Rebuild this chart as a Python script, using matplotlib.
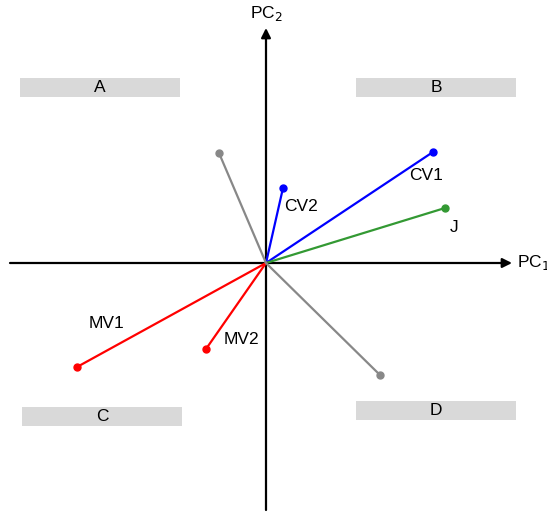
import matplotlib.pyplot as plt
from matplotlib.patches import Rectangle

plt.rcParams['font.family'] = ['Liberation Sans', 'DejaVu Sans']

# loading vectors in the PC1/PC2 plane
names = ['CV1', 'CV2', 'J', 'MV1', 'MV2', '', '']
pc1 = [1.67, 0.17, 1.79, -1.89, -0.60, -0.47, 1.14]
pc2 = [1.11, 0.75, 0.55, -1.04, -0.86, 1.10, -1.12]
colors = ['#0000ff', '#0000ff', '#339933', '#ff0000', '#ff0000', '#888888', '#888888']
label_offsets = [(-0.07, -0.24), (0.18, -0.19), (0.09, -0.20), (0.29, 0.44), (0.35, 0.10), (0, 0), (0, 0)]

# quadrant tags
quads = ['A', 'B', 'C', 'D']
quad_x = [-2.46, 0.90, -2.44, 0.90]
quad_y = [1.66, 1.66, -1.63, -1.57]

fig = plt.figure(figsize=(5.47, 5.13), dpi=100)
ax = fig.add_axes([0, 0, 1, 1])
ax.set_xlim(-2.66, 2.81)
ax.set_ylim(-2.50, 2.63)
ax.axis('off')

# axes with arrow heads
ax.annotate('', xy=(2.46, 0), xytext=(-2.56, 0),
            arrowprops=dict(arrowstyle='-|>', color='black', lw=1.6, mutation_scale=14, shrinkA=0, shrinkB=0))
ax.annotate('', xy=(0, 2.35), xytext=(0, -2.47),
            arrowprops=dict(arrowstyle='-|>', color='black', lw=1.6, mutation_scale=14, shrinkA=0, shrinkB=0))
ax.text(2.51, 0, 'PC$_1$', fontsize=12.5, va='center', ha='left')
ax.text(0, 2.40, 'PC$_2$', fontsize=12.5, va='bottom', ha='center')

for q, x, y in zip(quads, quad_x, quad_y):
    ax.add_patch(Rectangle((x, y), 1.6, 0.19, facecolor='#d9d9d9', edgecolor='none'))
    ax.text(x + 0.8, y + 0.095, q, fontsize=12.5, ha='center', va='center')

for n, x, y, c, off in zip(names, pc1, pc2, colors, label_offsets):
    ax.plot([0, x], [0, y], color=c, lw=1.6, zorder=3)
    ax.plot(x, y, 'o', color=c, ms=5, zorder=4)
    if n:
        ax.text(x + off[0], y + off[1], n, fontsize=12.5, ha='center', va='center')

fig.savefig('out.png', dpi=100)
